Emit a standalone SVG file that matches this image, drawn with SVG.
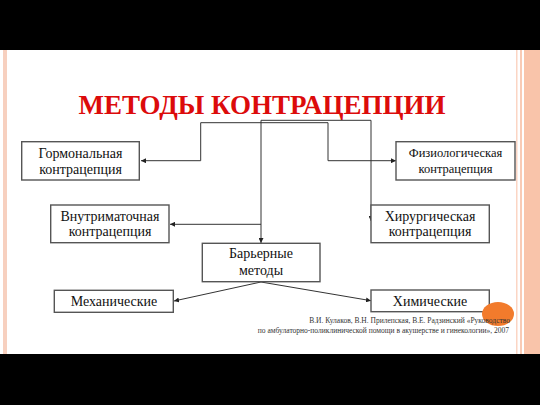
<svg xmlns="http://www.w3.org/2000/svg" width="540" height="405" viewBox="0 0 540 405">
<defs>
<style>
.box{fill:#fff;stroke:#555;stroke-width:1.4}
.t{font-family:"Liberation Serif","DejaVu Serif","Times New Roman",serif;font-size:14px;fill:#111;text-anchor:middle}
.s{font-size:12.5px}
.c{fill:none;stroke:#333;stroke-width:1}
.ref{font-family:"Liberation Serif","DejaVu Serif","Times New Roman",serif;font-size:7.5px;fill:#333;text-anchor:end}
.title{font-family:"Liberation Serif","DejaVu Serif","Times New Roman",serif;font-weight:bold;font-size:27px;fill:#dc0b0b;text-anchor:middle}
</style>
<marker id="a" viewBox="0 0 6 6" refX="6" refY="3" markerWidth="5" markerHeight="5" orient="auto" markerUnits="userSpaceOnUse">
<path d="M0,0 L6,3 L0,6 z" fill="#222"/>
</marker>
</defs>
<rect width="540" height="405" fill="#fff"/>
<rect x="0" y="0" width="540" height="50" fill="#000"/>
<rect x="0" y="354" width="540" height="51" fill="#000"/>
<rect x="3" y="50" width="4" height="304" fill="#f7d0bf"/>
<rect x="516" y="50" width="1.5" height="304" fill="#fbd5c4"/>
<rect x="520" y="50" width="2" height="304" fill="#f9cbb5"/>
<rect x="524" y="50" width="16" height="304" fill="#f9c4aa"/>
<text class="title" x="262" y="114">МЕТОДЫ КОНТРАЦЕПЦИИ</text>
<g id="connectors">
<path class="c" d="M328,160.7 V122.7 H200.7 V160.7 H141" marker-end="url(#a)"/>
<path class="c" d="M328,160.7 H396" marker-end="url(#a)"/>
<path class="c" d="M261,120.3 H371 V221" marker-end="url(#a)"/>
<path class="c" d="M261,120.3 V243" marker-end="url(#a)"/>
<path class="c" d="M261,224.3 H170" marker-end="url(#a)"/>
<path class="c" d="M261,282 L174,301" marker-end="url(#a)"/>
<path class="c" d="M261,282 L371,300.7" marker-end="url(#a)"/>
</g>
<g id="hormonal"><rect class="box" x="21.7" y="141.7" width="117.6" height="38.3"/><text class="t" x="80.5" y="158.3">Гормональная</text><text class="t" x="80.5" y="173.5">контрацепция</text></g>
<g id="physio"><rect class="box" x="396" y="141.7" width="119" height="38.3"/><text class="t s" x="455.5" y="157">Физиологическая</text><text class="t s" x="455.5" y="173">контрацепция</text></g>
<g id="iud"><rect class="box" x="50.7" y="205" width="118.3" height="37.7"/><text class="t" x="110" y="220.7">Внутриматочная</text><text class="t" x="110" y="236">контрацепция</text></g>
<g id="surgical"><rect class="box" x="371" y="205" width="118.3" height="37.7"/><text class="t" x="430" y="220.7">Хирургическая</text><text class="t" x="430" y="236">контрацепция</text></g>
<g id="barrier"><rect class="box" x="202.3" y="243.3" width="117.7" height="38.4"/><text class="t" x="261" y="258.3">Барьерные</text><text class="t" x="261" y="275">методы</text></g>
<g id="mechanical"><rect class="box" x="54.3" y="290.3" width="119" height="22"/><text class="t" x="114" y="305.7">Механические</text></g>
<g id="chemical"><rect class="box" x="371" y="290" width="118.3" height="21.7"/><text class="t" x="430" y="305.5">Химические</text></g>
<ellipse cx="498" cy="314" rx="16" ry="12" fill="#f27b2c"/>
<text class="ref" x="510" y="323.3">В.И. Кулаков, В.Н. Прилепская, В.Е. Радзинский «Руководство</text>
<text class="ref" x="509" y="332.7">по амбулаторно-поликлинической помощи в акушерстве и гинекологии», 2007</text>
</svg>
